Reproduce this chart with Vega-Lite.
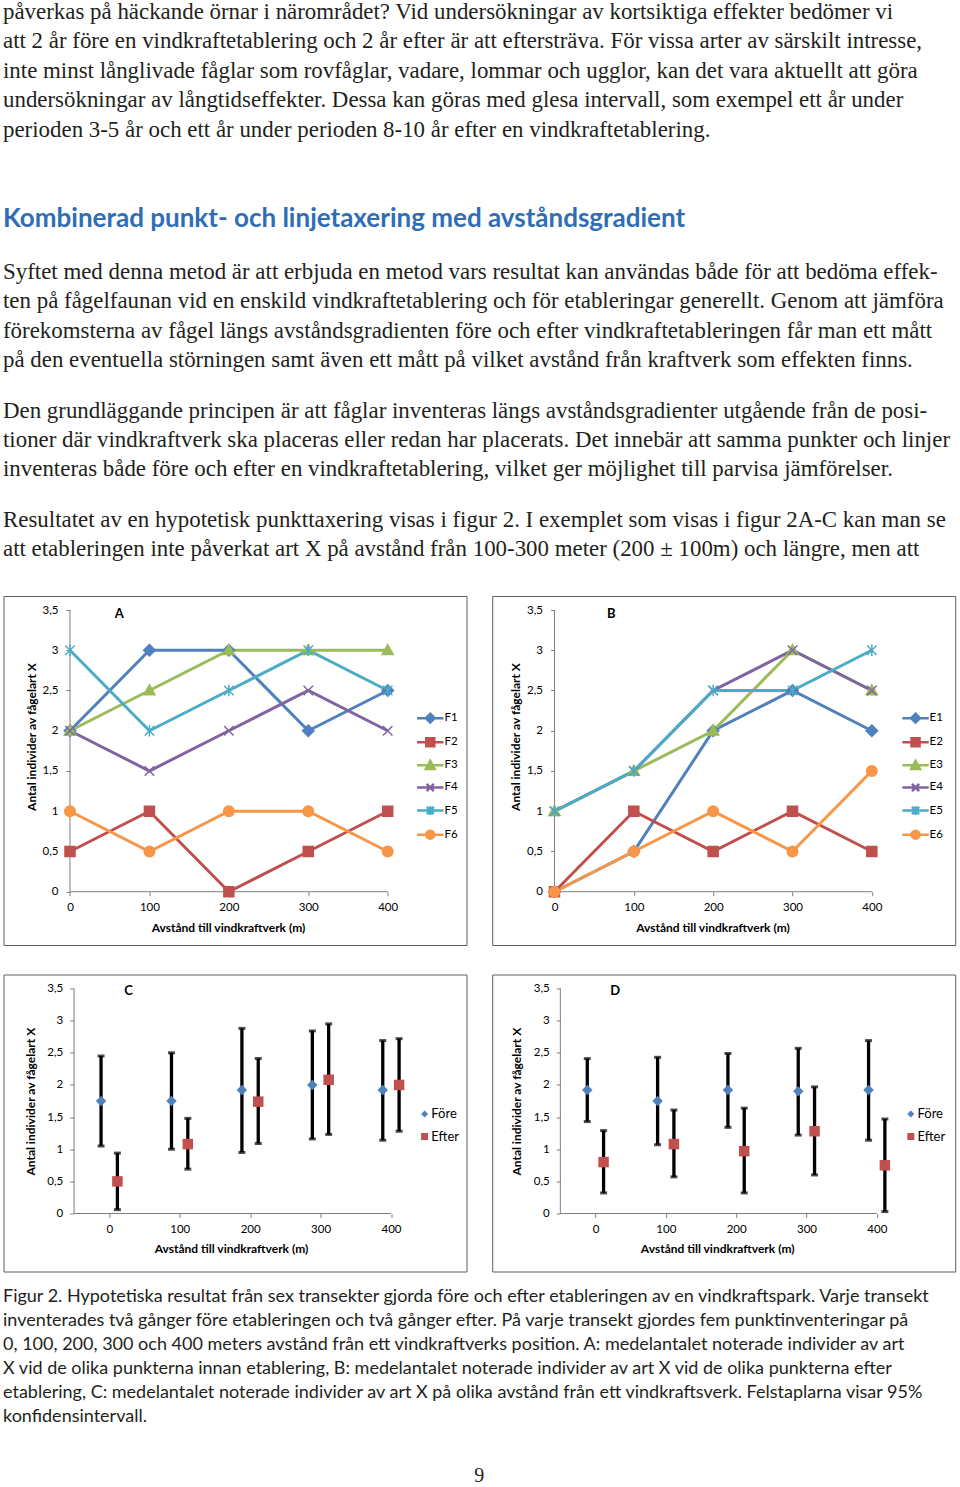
{
  "$schema": "https://vega.github.io/schema/vega-lite/v6.json",
  "padding": {"left": 2.5, "top": 0, "right": 0, "bottom": 0},
  "background": "white",
  "config": {
    "view": {"stroke": "#5f5f5f", "strokeWidth": 1},
    "axis": {"labelFont": "Lato", "titleFont": "Lato", "labelColor": "#000000", "titleColor": "#000000", "tickColor": "#7f7f7f", "grid": false, "domain": false, "labelFlush": false, "labelOverlap": false, "tickSize": 4},
    "legend": {"labelFont": "Lato", "labelColor": "#000000"}
  },
  "datasets": {
    "A": [
      {"avstand": 0, "serie": "F1", "antal": 2}, {"avstand": 100, "serie": "F1", "antal": 3}, {"avstand": 200, "serie": "F1", "antal": 3}, {"avstand": 300, "serie": "F1", "antal": 2}, {"avstand": 400, "serie": "F1", "antal": 2.5},
      {"avstand": 0, "serie": "F2", "antal": 0.5}, {"avstand": 100, "serie": "F2", "antal": 1}, {"avstand": 200, "serie": "F2", "antal": 0}, {"avstand": 300, "serie": "F2", "antal": 0.5}, {"avstand": 400, "serie": "F2", "antal": 1},
      {"avstand": 0, "serie": "F3", "antal": 2}, {"avstand": 100, "serie": "F3", "antal": 2.5}, {"avstand": 200, "serie": "F3", "antal": 3}, {"avstand": 300, "serie": "F3", "antal": 3}, {"avstand": 400, "serie": "F3", "antal": 3},
      {"avstand": 0, "serie": "F4", "antal": 2}, {"avstand": 100, "serie": "F4", "antal": 1.5}, {"avstand": 200, "serie": "F4", "antal": 2}, {"avstand": 300, "serie": "F4", "antal": 2.5}, {"avstand": 400, "serie": "F4", "antal": 2},
      {"avstand": 0, "serie": "F5", "antal": 3}, {"avstand": 100, "serie": "F5", "antal": 2}, {"avstand": 200, "serie": "F5", "antal": 2.5}, {"avstand": 300, "serie": "F5", "antal": 3}, {"avstand": 400, "serie": "F5", "antal": 2.5},
      {"avstand": 0, "serie": "F6", "antal": 1}, {"avstand": 100, "serie": "F6", "antal": 0.5}, {"avstand": 200, "serie": "F6", "antal": 1}, {"avstand": 300, "serie": "F6", "antal": 1}, {"avstand": 400, "serie": "F6", "antal": 0.5}
    ],
    "B": [
      {"avstand": 0, "serie": "E1", "antal": 0}, {"avstand": 100, "serie": "E1", "antal": 0.5}, {"avstand": 200, "serie": "E1", "antal": 2}, {"avstand": 300, "serie": "E1", "antal": 2.5}, {"avstand": 400, "serie": "E1", "antal": 2},
      {"avstand": 0, "serie": "E2", "antal": 0}, {"avstand": 100, "serie": "E2", "antal": 1}, {"avstand": 200, "serie": "E2", "antal": 0.5}, {"avstand": 300, "serie": "E2", "antal": 1}, {"avstand": 400, "serie": "E2", "antal": 0.5},
      {"avstand": 0, "serie": "E3", "antal": 1}, {"avstand": 100, "serie": "E3", "antal": 1.5}, {"avstand": 200, "serie": "E3", "antal": 2}, {"avstand": 300, "serie": "E3", "antal": 3}, {"avstand": 400, "serie": "E3", "antal": 2.5},
      {"avstand": 0, "serie": "E4", "antal": 1}, {"avstand": 100, "serie": "E4", "antal": 1.5}, {"avstand": 200, "serie": "E4", "antal": 2.5}, {"avstand": 300, "serie": "E4", "antal": 3}, {"avstand": 400, "serie": "E4", "antal": 2.5},
      {"avstand": 0, "serie": "E5", "antal": 1}, {"avstand": 100, "serie": "E5", "antal": 1.5}, {"avstand": 200, "serie": "E5", "antal": 2.5}, {"avstand": 300, "serie": "E5", "antal": 2.5}, {"avstand": 400, "serie": "E5", "antal": 3},
      {"avstand": 0, "serie": "E6", "antal": 0}, {"avstand": 100, "serie": "E6", "antal": 0.5}, {"avstand": 200, "serie": "E6", "antal": 1}, {"avstand": 300, "serie": "E6", "antal": 0.5}, {"avstand": 400, "serie": "E6", "antal": 1.5}
    ],
    "C": [
      {"avstand": 0, "grupp": "Före", "xpos": -11.7, "medel": 1.75, "lo": 1.05, "hi": 2.45},
      {"avstand": 100, "grupp": "Före", "xpos": 88.3, "medel": 1.75, "lo": 1.0, "hi": 2.5},
      {"avstand": 200, "grupp": "Före", "xpos": 188.3, "medel": 1.92, "lo": 0.95, "hi": 2.88},
      {"avstand": 300, "grupp": "Före", "xpos": 288.3, "medel": 2.0, "lo": 1.16, "hi": 2.84},
      {"avstand": 400, "grupp": "Före", "xpos": 388.3, "medel": 1.92, "lo": 1.14, "hi": 2.69},
      {"avstand": 0, "grupp": "Efter", "xpos": 11.5, "medel": 0.5, "lo": 0.06, "hi": 0.94},
      {"avstand": 100, "grupp": "Efter", "xpos": 111.5, "medel": 1.08, "lo": 0.69, "hi": 1.48},
      {"avstand": 200, "grupp": "Efter", "xpos": 211.5, "medel": 1.74, "lo": 1.09, "hi": 2.41},
      {"avstand": 300, "grupp": "Efter", "xpos": 311.5, "medel": 2.08, "lo": 1.23, "hi": 2.95},
      {"avstand": 400, "grupp": "Efter", "xpos": 411.5, "medel": 2.0, "lo": 1.28, "hi": 2.72}
    ],
    "D": [
      {"avstand": 0, "grupp": "Före", "xpos": -11.7, "medel": 1.92, "lo": 1.43, "hi": 2.41},
      {"avstand": 100, "grupp": "Före", "xpos": 88.3, "medel": 1.75, "lo": 1.07, "hi": 2.43},
      {"avstand": 200, "grupp": "Före", "xpos": 188.3, "medel": 1.92, "lo": 1.34, "hi": 2.49},
      {"avstand": 300, "grupp": "Före", "xpos": 288.3, "medel": 1.9, "lo": 1.22, "hi": 2.57},
      {"avstand": 400, "grupp": "Före", "xpos": 388.3, "medel": 1.92, "lo": 1.14, "hi": 2.69},
      {"avstand": 0, "grupp": "Efter", "xpos": 11.5, "medel": 0.8, "lo": 0.32, "hi": 1.29},
      {"avstand": 100, "grupp": "Efter", "xpos": 111.5, "medel": 1.08, "lo": 0.57, "hi": 1.61},
      {"avstand": 200, "grupp": "Efter", "xpos": 211.5, "medel": 0.97, "lo": 0.32, "hi": 1.64},
      {"avstand": 300, "grupp": "Efter", "xpos": 311.5, "medel": 1.28, "lo": 0.6, "hi": 1.97},
      {"avstand": 400, "grupp": "Efter", "xpos": 411.5, "medel": 0.75, "lo": 0.03, "hi": 1.47}
    ],
    "tom": [{}]
  },
  "title": {
    "text": [
      "påverkas på häckande örnar i närområdet? Vid undersökningar av kortsiktiga effekter bedömer vi",
      "att 2 år före en vindkraftetablering och 2 år efter är att eftersträva. För vissa arter av särskilt intresse,",
      "inte minst långlivade fåglar som rovfåglar, vadare, lommar och ugglor, kan det vara aktuellt att göra",
      "undersökningar av långtidseffekter. Dessa kan göras med glesa intervall, som exempel ett år under",
      "perioden 3-5 år och ett år under perioden 8-10 år efter en vindkraftetablering."
    ],
    "subtitle": "Kombinerad punkt- och linjetaxering med avståndsgradient",
    "anchor": "start", "orient": "top",
    "font": "Liberation Serif", "fontSize": 22.9, "fontWeight": "normal", "color": "#231f20", "lineHeight": 29.5,
    "offset": 28.6,
    "subtitleFont": "Lato", "subtitleFontSize": 26, "subtitleFontWeight": "bold", "subtitleColor": "#2f6eb5", "subtitlePadding": 65
  },
  "resolve": {"scale": {"x": "independent", "y": "independent", "color": "independent", "fill": "independent", "stroke": "independent", "shape": "independent"}},
  "vconcat": [
    {
      "title": {
        "text": [
          "Syftet med denna metod är att erbjuda en metod vars resultat kan användas både för att bedöma effek-",
          "ten på fågelfaunan vid en enskild vindkraftetablering och för etableringar generellt. Genom att jämföra",
          "förekomsterna av fågel längs avståndsgradienten före och efter vindkraftetableringen får man ett mått",
          "på den eventuella störningen samt även ett mått på vilket avstånd från kraftverk som effekten finns."
        ],
        "anchor": "start", "orient": "top", "font": "Liberation Serif", "fontSize": 22.9, "fontWeight": "normal", "color": "#231f20", "lineHeight": 29.3, "offset": 28.1
      },
      "resolve": {"scale": {"x": "independent", "y": "independent", "color": "independent", "fill": "independent", "stroke": "independent", "shape": "independent"}},
      "vconcat": [
        {
          "title": {
            "text": [
              "Den grundläggande principen är att fåglar inventeras längs avståndsgradienter utgående från de posi-",
              "tioner där vindkraftverk ska placeras eller redan har placerats. Det innebär att samma punkter och linjer",
              "inventeras både före och efter en vindkraftetablering, vilket ger möjlighet till parvisa jämförelser."
            ],
            "anchor": "start", "orient": "top", "font": "Liberation Serif", "fontSize": 22.9, "fontWeight": "normal", "color": "#231f20", "lineHeight": 29.3, "offset": 27.1
          },
          "resolve": {"scale": {"x": "independent", "y": "independent", "color": "independent", "fill": "independent", "stroke": "independent", "shape": "independent"}},
          "vconcat": [
            {
              "title": {
                "text": [
                  "Resultatet av en hypotetisk punkttaxering visas i figur 2. I exemplet som visas i figur 2A-C kan man se",
                  "att etableringen inte påverkat art X på avstånd från 100-300 meter (200 ± 100m) och längre, men att"
                ],
                "anchor": "start", "orient": "top", "font": "Liberation Serif", "fontSize": 22.9, "fontWeight": "normal", "color": "#231f20", "lineHeight": 29.3, "offset": 34.8
              },
              "resolve": {"scale": {"x": "independent", "y": "independent", "color": "independent", "fill": "independent", "stroke": "independent", "shape": "independent"}},
              "vconcat": [
                {
                  "title": {"text": "9", "orient": "bottom", "anchor": "middle", "font": "Liberation Serif", "fontSize": 20, "fontWeight": "normal", "color": "#231f20", "offset": 40},
                  "resolve": {"scale": {"x": "independent", "y": "independent", "color": "independent", "fill": "independent", "stroke": "independent", "shape": "independent"}},
                  "vconcat": [
                    {
                      "title": {
                        "text": [
                          "Figur 2. Hypotetiska resultat från sex transekter gjorda före och efter etableringen av en vindkraftspark. Varje transekt",
                          "inventerades två gånger före etableringen och två gånger efter. På varje transekt gjordes fem punktinventeringar på",
                          "0, 100, 200, 300 och 400 meters avstånd från ett vindkraftverks position.  A: medelantalet noterade individer av art",
                          "X vid de olika punkterna innan etablering, B: medelantalet noterade individer av art X vid de olika punkterna efter",
                          "etablering, C: medelantalet noterade individer av art X på olika avstånd från ett vindkraftsverk. Felstaplarna visar 95%",
                          "konfidensintervall."
                        ],
                        "orient": "bottom", "anchor": "start", "font": "Lato", "fontSize": 18, "fontWeight": "normal", "color": "#231f20", "lineHeight": 24, "offset": 16
                      },
                      "spacing": 27.5,
                      "resolve": {"scale": {"x": "independent", "y": "independent", "color": "independent", "fill": "independent", "stroke": "independent", "shape": "independent"}},
                      "vconcat": [
                        {
                          "spacing": 23.7,
                          "resolve": {"scale": {"x": "independent", "y": "independent", "color": "independent", "fill": "independent", "stroke": "independent", "shape": "independent"}},
                          "hconcat": [
                            {
                              "width": 463, "height": 349,
                              "layer": [
                                {
                                  "data": {"name": "tom"},
                                  "mark": {"type": "rule", "color": "#7f7f7f", "strokeWidth": 1},
                                  "encoding": {
                                    "x": {"datum": 0, "type": "quantitative", "scale": {"domain": [-83.7, 499.2], "nice": false, "zero": false},
                                      "axis": {"orient": "bottom", "offset": -53.3, "values": [0, 100, 200, 300, 400], "labelFontSize": 11.5, "labelPadding": 6, "title": "Avstånd till vindkraftverk (m)", "titleFontSize": 12, "titleFontWeight": "bold", "titleX": 224.5, "titleY": 35.3, "titleBaseline": "middle", "titleAlign": "center"}},
                                    "y": {"datum": 0, "type": "quantitative", "scale": {"domain": [-0.662, 3.674], "nice": false, "zero": false},
                                      "axis": {"orient": "left", "offset": -66.5, "values": [0, 0.5, 1, 1.5, 2, 2.5, 3, 3.5], "labelExpr": "replace(toString(datum.value), '.', ',')", "labelFontSize": 11.5, "labelPadding": 8, "title": "Antal individer av fågelart X", "titleFontSize": 12, "titleFontWeight": "bold", "titleX": -38.3, "titleY": 140.5, "titleBaseline": "middle", "titleAlign": "center", "titleAngle": 270}},
                                    "y2": {"datum": 3.5}
                                  }
                                },
                                {
                                  "data": {"name": "tom"},
                                  "mark": {"type": "rule", "color": "#7f7f7f", "strokeWidth": 1},
                                  "encoding": {
                                    "x": {"datum": 0, "type": "quantitative", "scale": {"domain": [-83.7, 499.2], "nice": false, "zero": false}},
                                    "x2": {"datum": 400},
                                    "y": {"datum": 0, "type": "quantitative", "scale": {"domain": [-0.662, 3.674], "nice": false, "zero": false}}
                                  }
                                },
                                {
                                  "data": {"name": "tom"},
                                  "mark": {"type": "text", "text": "A", "font": "Lato", "fontSize": 13, "fontWeight": "bold", "color": "#000000", "align": "center", "baseline": "middle"},
                                  "encoding": {
                                    "x": {"datum": 61.9, "type": "quantitative", "scale": {"domain": [-83.7, 499.2], "nice": false, "zero": false}},
                                    "y": {"datum": 3.45, "type": "quantitative", "scale": {"domain": [-0.662, 3.674], "nice": false, "zero": false}}
                                  }
                                },
                                {
                                  "data": {"name": "A"},
                                  "mark": {"type": "line", "strokeWidth": 3},
                                  "encoding": {
                                    "x": {"field": "avstand", "type": "quantitative", "scale": {"domain": [-83.7, 499.2], "nice": false, "zero": false}},
                                    "y": {"field": "antal", "type": "quantitative", "scale": {"domain": [-0.662, 3.674], "nice": false, "zero": false}},
                                    "color": {"field": "serie", "type": "nominal", "scale": {"domain": ["F1", "F2", "F3", "F4", "F5", "F6"], "range": ["#4F81BD", "#C0504D", "#9BBB59", "#8064A2", "#4BACC6", "#F79646"]},
                                      "legend": {"title": null, "orient": "none", "legendX": 421, "legendY": 116.4, "padding": 0, "symbolOffset": 0, "symbolSize": 64, "symbolStrokeWidth": 2.5, "labelFontSize": 11.5, "rowPadding": 4.1, "labelOffset": 8.5,
                                        "encode": {"symbols": {"update": {
                                          "shape": {"signal": "['M-3.3,0H3.3M0,-1.1L1.1,0L0,1.1L-1.1,0Z','M-3.3,0H3.3M-1,-1H1V1H-1Z','M-3.3,0H3.3M0,-1.1L1.1,0.9H-1.1Z','M-3.3,0H3.3M-0.9,-0.9L0.9,0.9M-0.9,0.9L0.9,-0.9','M-3.3,0H3.3M-0.9,-0.9L0.9,0.9M-0.9,0.9L0.9,-0.9M0,-1.1V1.1','M-3.3,0H3.3M-1,0A1,1,0,1,0,1,0A1,1,0,1,0,-1,0Z'][toNumber(substring(datum.value,1,2))-1]"},
                                          "stroke": {"signal": "['#4F81BD','#C0504D','#9BBB59','#8064A2','#4BACC6','#F79646'][toNumber(substring(datum.value,1,2))-1]"},
                                          "fill": {"signal": "['#4F81BD','#C0504D','#9BBB59','#8064A2','#4BACC6','#F79646'][toNumber(substring(datum.value,1,2))-1]"},
                                          "strokeWidth": {"value": 2.5},
                                          "opacity": {"value": 1}
                                        }}}}}
                                  }
                                },
                                {
                                  "data": {"name": "A"},
                                  "mark": {"type": "point", "filled": false, "size": 100, "strokeWidth": 1.5, "opacity": 1},
                                  "encoding": {
                                    "x": {"field": "avstand", "type": "quantitative", "scale": {"domain": [-83.7, 499.2], "nice": false, "zero": false}},
                                    "y": {"field": "antal", "type": "quantitative", "scale": {"domain": [-0.662, 3.674], "nice": false, "zero": false}},
                                    "fill": {"field": "serie", "type": "nominal", "scale": {"range": ["#4F81BD", "#C0504D", "#9BBB59", "#8064A2", "#4BACC6", "#F79646"]}, "legend": null},
                                    "stroke": {"field": "serie", "type": "nominal", "scale": {"range": ["#4F81BD", "#C0504D", "#9BBB59", "#8064A2", "#4BACC6", "#F79646"]}, "legend": null},
                                    "shape": {"field": "serie", "type": "nominal", "scale": {"range": ["M0,-1.15L1.15,0L0,1.15L-1.15,0Z", "M-1,-1H1V1H-1Z", "M0,-1.15L1.1,0.85H-1.1Z", "M-0.95,-0.95L0.95,0.95M-0.95,0.95L0.95,-0.95", "M-0.95,-0.95L0.95,0.95M-0.95,0.95L0.95,-0.95M0,-1.15V1.15", "M-1.05,0A1.05,1.05,0,1,0,1.05,0A1.05,1.05,0,1,0,-1.05,0Z"]}, "legend": null}
                                  }
                                }
                              ]
                            },
                            {
                              "width": 463, "height": 349,
                              "layer": [
                                {
                                  "data": {"name": "tom"},
                                  "mark": {"type": "rule", "color": "#7f7f7f", "strokeWidth": 1},
                                  "encoding": {
                                    "x": {"datum": 0, "type": "quantitative", "scale": {"domain": [-78.5, 505.1], "nice": false, "zero": false},
                                      "axis": {"orient": "bottom", "offset": -53.3, "values": [0, 100, 200, 300, 400], "labelFontSize": 11.5, "labelPadding": 6, "title": "Avstånd till vindkraftverk (m)", "titleFontSize": 12, "titleFontWeight": "bold", "titleX": 220.3, "titleY": 35.3, "titleBaseline": "middle", "titleAlign": "center"}},
                                    "y": {"datum": 0, "type": "quantitative", "scale": {"domain": [-0.662, 3.674], "nice": false, "zero": false},
                                      "axis": {"orient": "left", "offset": -62.3, "values": [0, 0.5, 1, 1.5, 2, 2.5, 3, 3.5], "labelExpr": "replace(toString(datum.value), '.', ',')", "labelFontSize": 11.5, "labelPadding": 8, "title": "Antal individer av fågelart X", "titleFontSize": 12, "titleFontWeight": "bold", "titleX": -39, "titleY": 140.5, "titleBaseline": "middle", "titleAlign": "center", "titleAngle": 270}},
                                    "y2": {"datum": 3.5}
                                  }
                                },
                                {
                                  "data": {"name": "tom"},
                                  "mark": {"type": "rule", "color": "#7f7f7f", "strokeWidth": 1},
                                  "encoding": {
                                    "x": {"datum": 0, "type": "quantitative", "scale": {"domain": [-78.5, 505.1], "nice": false, "zero": false}},
                                    "x2": {"datum": 400},
                                    "y": {"datum": 0, "type": "quantitative", "scale": {"domain": [-0.662, 3.674], "nice": false, "zero": false}}
                                  }
                                },
                                {
                                  "data": {"name": "tom"},
                                  "mark": {"type": "text", "text": "B", "font": "Lato", "fontSize": 13, "fontWeight": "bold", "color": "#000000", "align": "center", "baseline": "middle"},
                                  "encoding": {
                                    "x": {"datum": 71.5, "type": "quantitative", "scale": {"domain": [-78.5, 505.1], "nice": false, "zero": false}},
                                    "y": {"datum": 3.45, "type": "quantitative", "scale": {"domain": [-0.662, 3.674], "nice": false, "zero": false}}
                                  }
                                },
                                {
                                  "data": {"name": "B"},
                                  "mark": {"type": "line", "strokeWidth": 3},
                                  "encoding": {
                                    "x": {"field": "avstand", "type": "quantitative", "scale": {"domain": [-78.5, 505.1], "nice": false, "zero": false}},
                                    "y": {"field": "antal", "type": "quantitative", "scale": {"domain": [-0.662, 3.674], "nice": false, "zero": false}},
                                    "color": {"field": "serie", "type": "nominal", "scale": {"domain": ["E1", "E2", "E3", "E4", "E5", "E6"], "range": ["#4F81BD", "#C0504D", "#9BBB59", "#8064A2", "#4BACC6", "#F79646"]},
                                      "legend": {"title": null, "orient": "none", "legendX": 417.6, "legendY": 116.4, "padding": 0, "symbolOffset": 0, "symbolSize": 64, "symbolStrokeWidth": 2.5, "labelFontSize": 11.5, "rowPadding": 4.1, "labelOffset": 8.3,
                                        "encode": {"symbols": {"update": {
                                          "shape": {"signal": "['M-3.3,0H3.3M0,-1.1L1.1,0L0,1.1L-1.1,0Z','M-3.3,0H3.3M-1,-1H1V1H-1Z','M-3.3,0H3.3M0,-1.1L1.1,0.9H-1.1Z','M-3.3,0H3.3M-0.9,-0.9L0.9,0.9M-0.9,0.9L0.9,-0.9','M-3.3,0H3.3M-0.9,-0.9L0.9,0.9M-0.9,0.9L0.9,-0.9M0,-1.1V1.1','M-3.3,0H3.3M-1,0A1,1,0,1,0,1,0A1,1,0,1,0,-1,0Z'][toNumber(substring(datum.value,1,2))-1]"},
                                          "stroke": {"signal": "['#4F81BD','#C0504D','#9BBB59','#8064A2','#4BACC6','#F79646'][toNumber(substring(datum.value,1,2))-1]"},
                                          "fill": {"signal": "['#4F81BD','#C0504D','#9BBB59','#8064A2','#4BACC6','#F79646'][toNumber(substring(datum.value,1,2))-1]"},
                                          "strokeWidth": {"value": 2.5},
                                          "opacity": {"value": 1}
                                        }}}}}
                                  }
                                },
                                {
                                  "data": {"name": "B"},
                                  "mark": {"type": "point", "filled": false, "size": 100, "strokeWidth": 1.5, "opacity": 1},
                                  "encoding": {
                                    "x": {"field": "avstand", "type": "quantitative", "scale": {"domain": [-78.5, 505.1], "nice": false, "zero": false}},
                                    "y": {"field": "antal", "type": "quantitative", "scale": {"domain": [-0.662, 3.674], "nice": false, "zero": false}},
                                    "fill": {"field": "serie", "type": "nominal", "scale": {"range": ["#4F81BD", "#C0504D", "#9BBB59", "#8064A2", "#4BACC6", "#F79646"]}, "legend": null},
                                    "stroke": {"field": "serie", "type": "nominal", "scale": {"range": ["#4F81BD", "#C0504D", "#9BBB59", "#8064A2", "#4BACC6", "#F79646"]}, "legend": null},
                                    "shape": {"field": "serie", "type": "nominal", "scale": {"range": ["M0,-1.15L1.15,0L0,1.15L-1.15,0Z", "M-1,-1H1V1H-1Z", "M0,-1.15L1.1,0.85H-1.1Z", "M-0.95,-0.95L0.95,0.95M-0.95,0.95L0.95,-0.95", "M-0.95,-0.95L0.95,0.95M-0.95,0.95L0.95,-0.95M0,-1.15V1.15", "M-1.05,0A1.05,1.05,0,1,0,1.05,0A1.05,1.05,0,1,0,-1.05,0Z"]}, "legend": null}
                                  }
                                }
                              ]
                            }
                          ]
                        },
                        {
                          "spacing": 23.7,
                          "resolve": {"scale": {"x": "independent", "y": "independent", "color": "independent", "fill": "independent", "stroke": "independent", "shape": "independent"}},
                          "hconcat": [
                            {
                              "width": 463, "height": 297,
                              "layer": [
                                {
                                  "data": {"name": "tom"},
                                  "mark": {"type": "rule", "color": "#7f7f7f", "strokeWidth": 1},
                                  "encoding": {
                                    "x": {"datum": -50, "type": "quantitative", "scale": {"domain": [-150.2, 507.2], "nice": false, "zero": false},
                                      "axis": {"orient": "bottom", "offset": -58, "values": [0, 100, 200, 300, 400], "labelFontSize": 11.5, "labelPadding": 6, "title": "Avstånd till vindkraftverk (m)", "titleFontSize": 12, "titleFontWeight": "bold", "titleX": 227.5, "titleY": 35.4, "titleBaseline": "middle", "titleAlign": "center"}},
                                    "y": {"datum": 0, "type": "quantitative", "scale": {"domain": [-0.902, 3.718], "nice": false, "zero": false},
                                      "axis": {"orient": "left", "offset": -70.2, "values": [0, 0.5, 1, 1.5, 2, 2.5, 3, 3.5], "labelExpr": "replace(toString(datum.value), '.', ',')", "labelFontSize": 11.5, "labelPadding": 7, "title": "Antal individer av fågelart X", "titleFontSize": 12, "titleFontWeight": "bold", "titleX": -43.4, "titleY": 126.7, "titleBaseline": "middle", "titleAlign": "center", "titleAngle": 270}},
                                    "y2": {"datum": 3.5}
                                  }
                                },
                                {
                                  "data": {"name": "tom"},
                                  "mark": {"type": "rule", "color": "#7f7f7f", "strokeWidth": 1},
                                  "encoding": {
                                    "x": {"datum": -50, "type": "quantitative", "scale": {"domain": [-150.2, 507.2], "nice": false, "zero": false}},
                                    "x2": {"datum": 400},
                                    "y": {"datum": 0, "type": "quantitative", "scale": {"domain": [-0.902, 3.718], "nice": false, "zero": false}}
                                  }
                                },
                                {
                                  "data": {"name": "tom"},
                                  "mark": {"type": "text", "text": "C", "font": "Lato", "fontSize": 13, "fontWeight": "bold", "color": "#000000", "align": "center", "baseline": "middle"},
                                  "encoding": {
                                    "x": {"datum": 27.5, "type": "quantitative", "scale": {"domain": [-150.2, 507.2], "nice": false, "zero": false}},
                                    "y": {"datum": 3.458, "type": "quantitative", "scale": {"domain": [-0.902, 3.718], "nice": false, "zero": false}}
                                  }
                                },
                                {
                                  "data": {"name": "C"},
                                  "mark": {"type": "errorbar", "color": "#000000", "ticks": {"size": 7, "thickness": 3, "color": "#000000"}, "rule": {"strokeWidth": 3.3, "color": "#000000"}},
                                  "encoding": {
                                    "x": {"field": "xpos", "type": "quantitative", "scale": {"domain": [-150.2, 507.2], "nice": false, "zero": false}},
                                    "y": {"field": "lo", "type": "quantitative", "title": "Antal individer av fågelart X", "scale": {"domain": [-0.902, 3.718], "nice": false, "zero": false}},
                                    "y2": {"field": "hi"}
                                  }
                                },
                                {
                                  "data": {"name": "C"},
                                  "mark": {"type": "point", "filled": true, "size": 110, "opacity": 1},
                                  "encoding": {
                                    "x": {"field": "xpos", "type": "quantitative", "scale": {"domain": [-150.2, 507.2], "nice": false, "zero": false}},
                                    "y": {"field": "medel", "type": "quantitative", "title": "Antal individer av fågelart X", "scale": {"domain": [-0.902, 3.718], "nice": false, "zero": false}},
                                    "color": {"field": "grupp", "type": "nominal", "scale": {"domain": ["Före", "Efter"], "range": ["#4F81BD", "#C0504D"]},
                                      "legend": {"title": null, "orient": "none", "legendX": 414.6, "legendY": 132.9, "padding": 0, "symbolOffset": 0, "symbolSize": 49, "labelFontSize": 13, "rowPadding": 8.6, "labelOffset": 0.2}},
                                    "shape": {"field": "grupp", "type": "nominal", "scale": {"domain": ["Före", "Efter"], "range": ["diamond", "square"]}, "legend": null}
                                  }
                                }
                              ]
                            },
                            {
                              "width": 463, "height": 297,
                              "layer": [
                                {
                                  "data": {"name": "tom"},
                                  "mark": {"type": "rule", "color": "#7f7f7f", "strokeWidth": 1},
                                  "encoding": {
                                    "x": {"datum": -50, "type": "quantitative", "scale": {"domain": [-146.9, 511.5], "nice": false, "zero": false},
                                      "axis": {"orient": "bottom", "offset": -58, "values": [0, 100, 200, 300, 400], "labelFontSize": 11.5, "labelPadding": 6, "title": "Avstånd till vindkraftverk (m)", "titleFontSize": 12, "titleFontWeight": "bold", "titleX": 225, "titleY": 35.4, "titleBaseline": "middle", "titleAlign": "center"}},
                                    "y": {"datum": 0, "type": "quantitative", "scale": {"domain": [-0.902, 3.718], "nice": false, "zero": false},
                                      "axis": {"orient": "left", "offset": -68, "values": [0, 0.5, 1, 1.5, 2, 2.5, 3, 3.5], "labelExpr": "replace(toString(datum.value), '.', ',')", "labelFontSize": 11.5, "labelPadding": 7, "title": "Antal individer av fågelart X", "titleFontSize": 12, "titleFontWeight": "bold", "titleX": -44, "titleY": 126.7, "titleBaseline": "middle", "titleAlign": "center", "titleAngle": 270}},
                                    "y2": {"datum": 3.5}
                                  }
                                },
                                {
                                  "data": {"name": "tom"},
                                  "mark": {"type": "rule", "color": "#7f7f7f", "strokeWidth": 1},
                                  "encoding": {
                                    "x": {"datum": -50, "type": "quantitative", "scale": {"domain": [-146.9, 511.5], "nice": false, "zero": false}},
                                    "x2": {"datum": 400},
                                    "y": {"datum": 0, "type": "quantitative", "scale": {"domain": [-0.902, 3.718], "nice": false, "zero": false}}
                                  }
                                },
                                {
                                  "data": {"name": "tom"},
                                  "mark": {"type": "text", "text": "D", "font": "Lato", "fontSize": 13, "fontWeight": "bold", "color": "#000000", "align": "center", "baseline": "middle"},
                                  "encoding": {
                                    "x": {"datum": 28.0, "type": "quantitative", "scale": {"domain": [-146.9, 511.5], "nice": false, "zero": false}},
                                    "y": {"datum": 3.458, "type": "quantitative", "scale": {"domain": [-0.902, 3.718], "nice": false, "zero": false}}
                                  }
                                },
                                {
                                  "data": {"name": "D"},
                                  "mark": {"type": "errorbar", "color": "#000000", "ticks": {"size": 7, "thickness": 3, "color": "#000000"}, "rule": {"strokeWidth": 3.3, "color": "#000000"}},
                                  "encoding": {
                                    "x": {"field": "xpos", "type": "quantitative", "scale": {"domain": [-146.9, 511.5], "nice": false, "zero": false}},
                                    "y": {"field": "lo", "type": "quantitative", "title": "Antal individer av fågelart X", "scale": {"domain": [-0.902, 3.718], "nice": false, "zero": false}},
                                    "y2": {"field": "hi"}
                                  }
                                },
                                {
                                  "data": {"name": "D"},
                                  "mark": {"type": "point", "filled": true, "size": 110, "opacity": 1},
                                  "encoding": {
                                    "x": {"field": "xpos", "type": "quantitative", "scale": {"domain": [-146.9, 511.5], "nice": false, "zero": false}},
                                    "y": {"field": "medel", "type": "quantitative", "title": "Antal individer av fågelart X", "scale": {"domain": [-0.902, 3.718], "nice": false, "zero": false}},
                                    "color": {"field": "grupp", "type": "nominal", "scale": {"domain": ["Före", "Efter"], "range": ["#4F81BD", "#C0504D"]},
                                      "legend": {"title": null, "orient": "none", "legendX": 412.1, "legendY": 132.9, "padding": 0, "symbolOffset": 0, "symbolSize": 49, "labelFontSize": 13, "rowPadding": 8.6, "labelOffset": 0.2}},
                                    "shape": {"field": "grupp", "type": "nominal", "scale": {"domain": ["Före", "Efter"], "range": ["diamond", "square"]}, "legend": null}
                                  }
                                }
                              ]
                            }
                          ]
                        }
                      ]
                    }
                  ]
                }
              ]
            }
          ]
        }
      ]
    }
  ]
}
